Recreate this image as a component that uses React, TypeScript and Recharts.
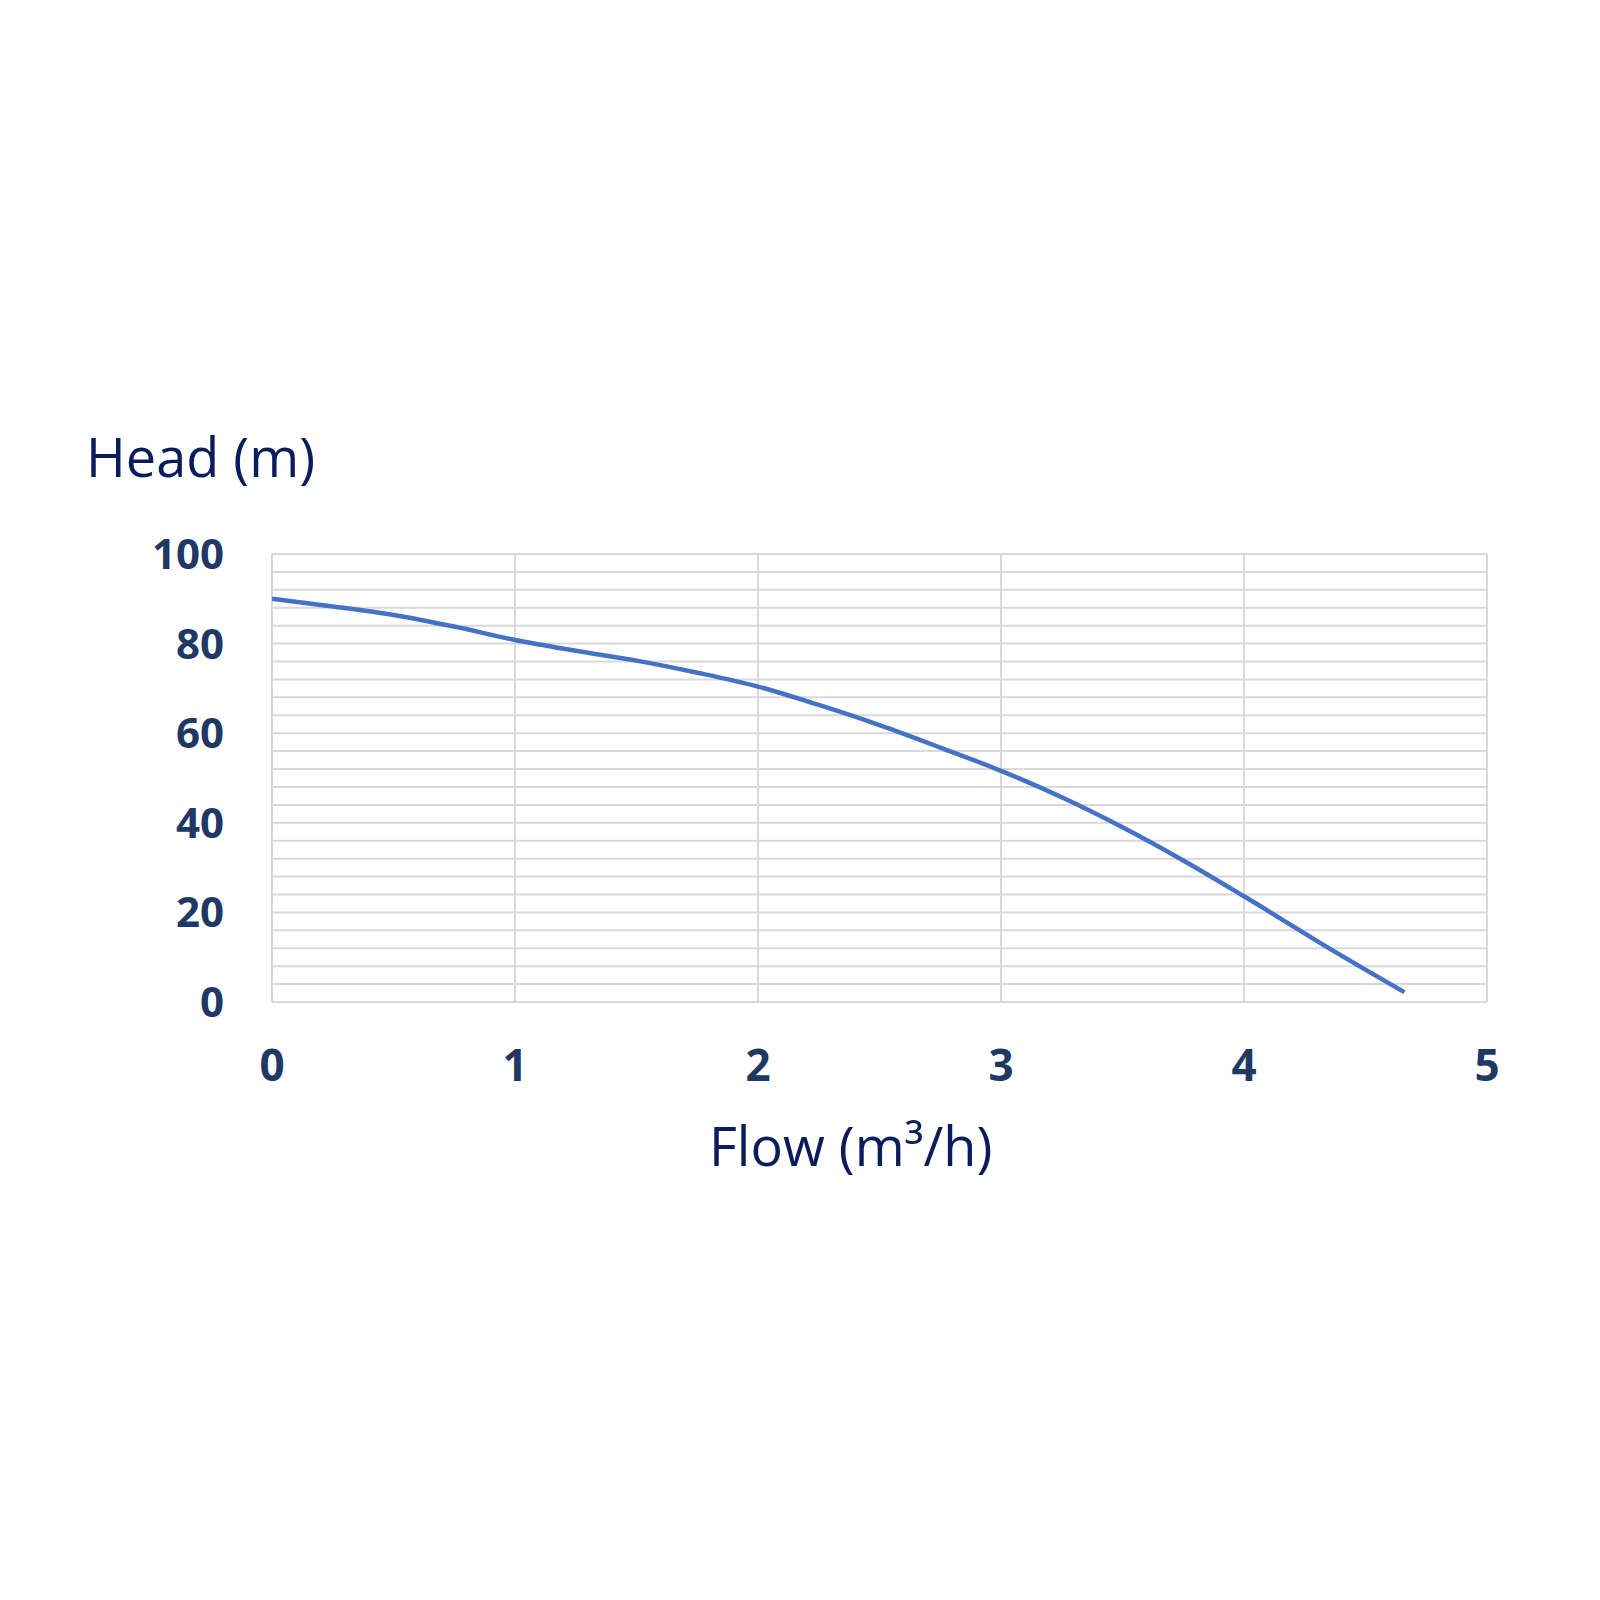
import { CartesianGrid, Line, LineChart, XAxis, YAxis } from "recharts";

// pump curve
const flow = [0, 0.25, 0.5, 0.75, 1, 1.25, 1.5, 1.75, 2, 2.25, 2.5, 2.75, 3, 3.25, 3.5, 3.75, 4, 4.375, 4.66];
const head = [90, 88.3, 86.4, 83.8, 80.8, 78.4, 76.2, 73.5, 70.4, 66.3, 61.8, 56.8, 51.6, 45.7, 39.0, 31.6, 23.6, 11.2, 2.2];

const xTicks = [0, 1, 2, 3, 4, 5];
// minor grid every 4 m, labels every 20 m
const yTicks = [0, 4, 8, 12, 16, 20, 24, 28, 32, 36, 40, 44, 48, 52, 56, 60, 64, 68, 72, 76, 80, 84, 88, 92, 96, 100];
const yLabels = [0, 20, 40, 60, 80, 100];

const data = flow.map((f, i) => ({ flow: f, head: head[i] }));

const font = "'Open Sans', sans-serif";
const tickColor = "#203864";
const titleColor = "#0a1c5c";

export default function App() {
  return (
    <div
      style={{
        position: "absolute",
        left: 0,
        top: 0,
        width: 1600,
        height: 1600,
        background: "#fff",
      }}
    >
      <LineChart
        width={1600}
        height={1600}
        data={data}
        margin={{ top: 554, right: 113, bottom: 538, left: 212 }}
      >
        <CartesianGrid stroke="#d9d9d9" strokeWidth={2} />
        <XAxis
          dataKey="flow"
          type="number"
          domain={[0, 5]}
          ticks={xTicks}
          axisLine={false}
          tickLine={false}
          tickSize={0}
          tickMargin={48}
          height={60}
          tick={{ fill: tickColor, fontSize: 44, fontWeight: 700, fontFamily: font }}
        />
        <YAxis
          type="number"
          domain={[0, 100]}
          ticks={yTicks}
          interval={0}
          axisLine={false}
          tickLine={false}
          tickSize={0}
          tickMargin={48}
          width={60}
          tickFormatter={(v: number) => (yLabels.includes(v) ? String(v) : "")}
          tick={{ fill: tickColor, fontSize: 42, fontWeight: 700, fontFamily: font }}
        />
        <Line
          type="monotone"
          dataKey="head"
          stroke="#4472c4"
          strokeWidth={4.5}
          dot={false}
          isAnimationActive={false}
        />
      </LineChart>
      <svg
        width={1600}
        height={1600}
        style={{ position: "absolute", left: 0, top: 0, pointerEvents: "none" }}
      >
        <text x={86} y={477} fill={titleColor} fontSize={54} fontFamily={font}>
          Head (m)
        </text>
        <text x={709} y={1166} fill={titleColor} fontSize={54} fontFamily={font}>
          Flow (m³/h)
        </text>
      </svg>
    </div>
  );
}
